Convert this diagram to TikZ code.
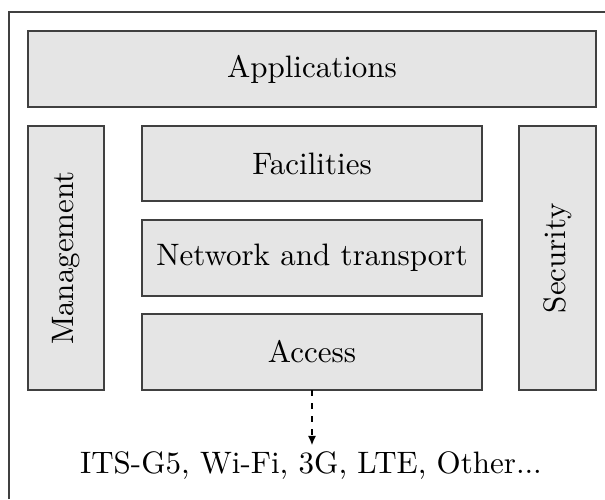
\documentclass[tikz,border=0pt]{standalone}
\usetikzlibrary{arrows.meta}
\newdimen\myu
\myu=0.3226pt
\tikzset{
  layerbox/.style={draw=black!75, fill=gray!20, line width=0.6pt, rectangle,
    inner sep=0pt, outer sep=0pt, font=\fontsize{10}{12}\selectfont},
  framelines/.style={draw=black!75, line width=0.6pt},
  dasharrow/.style={draw=black, line width=0.5pt, dash pattern=on 2pt off 2.2pt,
    -{Latex[length=3pt,width=2.6pt]}},
  labeltext/.style={font=\fontsize{10}{12}\selectfont, inner sep=2pt}
}
\begin{document}
\begin{tikzpicture}[x=\myu, y=-\myu]
\useasboundingbox (0,0) rectangle (605,499);
\draw[framelines] (9,499) -- (9,12) -- (605,12);
\node[layerbox, minimum width={568*\myu}, minimum height={76*\myu}] (app) at (312,69) {Applications};
\node[layerbox, rotate=90, minimum width={264*\myu}, minimum height={76*\myu}] (mgmt) at (66,258) {Management};
\node[layerbox, minimum width={340*\myu}, minimum height={75*\myu}] (fac) at (312,163.5) {Facilities};
\node[layerbox, minimum width={340*\myu}, minimum height={76*\myu}] (net) at (312,258) {Network and transport};
\node[layerbox, minimum width={340*\myu}, minimum height={76*\myu}] (acc) at (312,352) {Access};
\node[layerbox, rotate=90, minimum width={264*\myu}, minimum height={77*\myu}] (sec) at (557.5,258) {Security};
\node[labeltext] (tech) at (311,466) {ITS-G5, Wi-Fi, 3G, LTE, Other...};
\draw[dasharrow] (acc.south) -- (acc.south |- tech.north);
\end{tikzpicture}
\end{document}
